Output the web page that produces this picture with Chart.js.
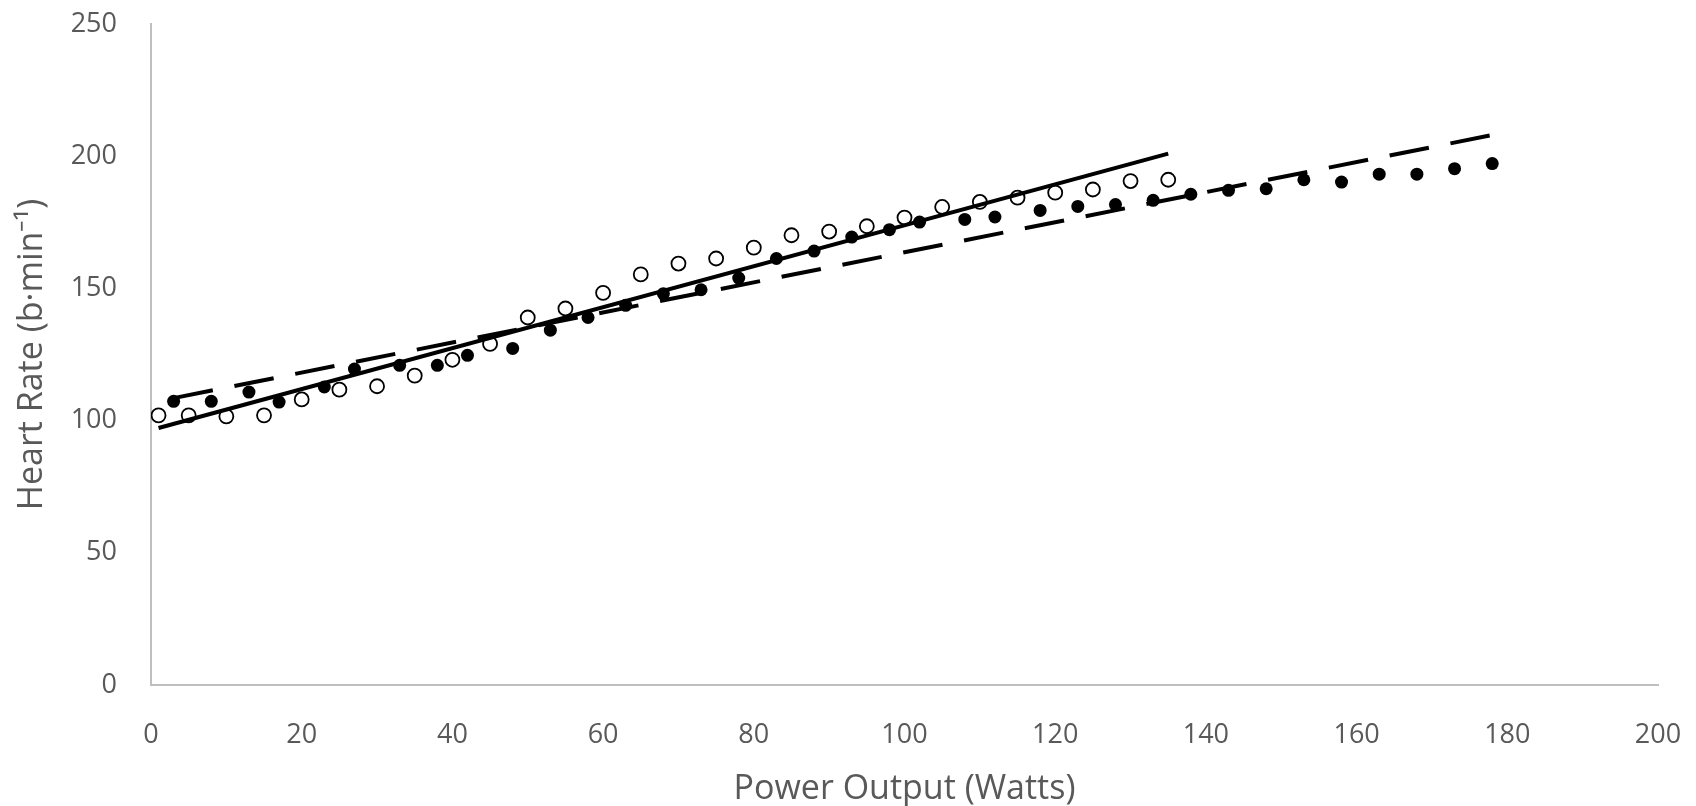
<!DOCTYPE html>
<html>
<head>
<meta charset="utf-8">
<script src="https://cdn.jsdelivr.net/npm/chart.js@4/dist/chart.umd.min.js"></script>
<style>
  html, body { margin: 0; padding: 0; background: #ffffff; }
  #wrap { width: 1696px; height: 806px; }
</style>
</head>
<body>
<div id="wrap"><canvas id="grafico"></canvas></div>
<script>
// data
const openX = [1, 5, 10, 15, 20, 25, 30, 35, 40, 45, 50, 55, 60, 65, 70, 75, 80, 85, 90, 95, 100, 105, 110, 115, 120, 125, 130, 135];
const openY = [102, 102, 101.6, 102, 108, 111.7, 113, 117, 123, 129, 139, 142.4, 148.3, 155.3, 159.4, 161.3, 165.4, 170.1, 171.5, 173.5, 176.8, 180.8, 182.7, 184.3, 186.2, 187.4, 190.6, 191.1];

const filledX = [3, 8, 13, 17, 23, 27, 33, 38, 42, 48, 53, 58, 63, 68, 73, 78, 83, 88, 93, 98, 102, 108, 112, 118, 123, 128, 133, 138, 143, 148, 153, 158, 163, 168, 173, 178];
const filledY = [107.3, 107.3, 110.8, 107, 112.7, 119.5, 120.9, 120.9, 124.7, 127.3, 134.2, 139, 143.6, 148, 149.5, 153.9, 161.3, 164.1, 169.4, 172.2, 175.1, 176.1, 177, 179.5, 181, 181.7, 183.3, 185.6, 187.1, 187.7, 191.1, 190.2, 193.2, 193.2, 195.3, 197.2];

// trendline end points
const solidX = [1, 135];
const solidY = [97.2, 201];
const dashX = [3, 178];
const dashY = [108.5, 208];

const xTicks = [0, 20, 40, 60, 80, 100, 120, 140, 160, 180, 200];
const yTicks = [0, 50, 100, 150, 200, 250];

const pontos = (xs, ys) => xs.map((x, i) => ({ x: x, y: ys[i] }));

const cinza = '#595959';
const fonte = 'Open Sans';

new Chart(document.getElementById('grafico'), {
    type: 'scatter',
    data: {
        datasets: [
            {
                type: 'line',
                data: pontos(solidX, solidY),
                borderColor: '#000',
                borderWidth: 4,
                pointRadius: 0,
                fill: false
            },
            {
                type: 'line',
                data: pontos(dashX, dashY),
                borderColor: '#000',
                borderWidth: 4,
                borderDash: [40, 22],
                pointRadius: 0,
                fill: false
            },
            {
                data: pontos(openX, openY),
                pointRadius: 7,
                pointBorderWidth: 1.8,
                pointBorderColor: '#000',
                pointBackgroundColor: '#fff'
            },
            {
                data: pontos(filledX, filledY),
                pointRadius: 6.5,
                pointBorderWidth: 0,
                pointBackgroundColor: '#000'
            }
        ]
    },
    options: {
        responsive: true,
        maintainAspectRatio: false,
        animation: false,
        layout: { padding: { top: 24, right: 38, bottom: 0, left: 0 } },
        plugins: {
            legend: { display: false },
            tooltip: { enabled: false }
        },
        scales: {
            x: {
                type: 'linear',
                min: 0,
                max: 200,
                afterBuildTicks: s => { s.ticks = xTicks.map(v => ({ value: v })); },
                afterFit: s => {
                    s.height = 121;
                    // tick padding must not push the plot area inwards
                    s.paddingLeft = 0;
                    s.paddingRight = 0;
                },
                grid: { color: 'transparent', drawTicks: false },
                border: { display: true, color: '#bfbfbf', width: 2 },
                ticks: {
                    color: cinza,
                    padding: 34,
                    maxRotation: 0,
                    font: { family: fonte, size: 27 }
                },
                title: {
                    display: true,
                    text: 'Power Output (Watts)',
                    color: cinza,
                    padding: { top: 0, bottom: 0 },
                    font: { family: fonte, size: 34, lineHeight: 1 }
                }
            },
            y: {
                type: 'linear',
                min: 0,
                max: 250,
                afterBuildTicks: s => { s.ticks = yTicks.map(v => ({ value: v })); },
                afterFit: s => {
                    s.width = 151;
                    s.paddingTop = 0;
                    s.paddingBottom = 0;
                },
                grid: { color: 'transparent', drawTicks: false },
                border: { display: true, color: '#bfbfbf', width: 2 },
                ticks: {
                    color: cinza,
                    padding: 34,
                    font: { family: fonte, size: 27 }
                },
                title: {
                    display: true,
                    text: 'Heart Rate (b·min⁻¹)',
                    color: cinza,
                    padding: { top: 15, bottom: 0 },
                    font: { family: fonte, size: 34, lineHeight: 1 }
                }
            }
        }
    }
});
</script>
</body>
</html>
